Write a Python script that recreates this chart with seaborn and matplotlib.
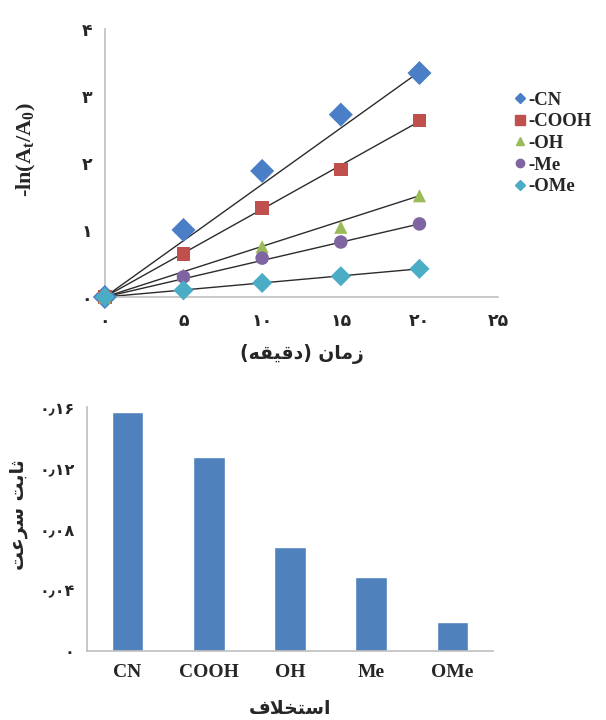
import numpy as np
import pandas as pd
import matplotlib
matplotlib.use("Agg")
import matplotlib.pyplot as plt
from matplotlib.lines import Line2D
from matplotlib.ticker import FixedLocator, MultipleLocator
import seaborn as sns

# ---------------- data ----------------
time_min = [0, 5, 10, 15, 20]
cn = [0, 1.00, 1.88, 2.72, 3.34]
cooh = [0, 0.64, 1.33, 1.90, 2.63]
oh = [0, 0.33, 0.75, 1.04, 1.51]
me = [0, 0.30, 0.58, 0.82, 1.09]
ome = [0, 0.10, 0.21, 0.31, 0.42]
fit_slopes = [0.168, 0.131, 0.0755, 0.0545, 0.021]
series_names = ["-CN", "-COOH", "-OH", "-Me", "-OMe"]

substituents = ["CN", "COOH", "OH", "Me", "OMe"]
rate_constants = [0.157, 0.127, 0.068, 0.0485, 0.019]

top_yticks = [0, 1, 2, 3, 4]
top_yticklabels = ["\u06F0", "\u06F1", "\u06F2", "\u06F3", "\u06F4"]
top_xticks = [0, 5, 10, 15, 20, 25]
top_xticklabels = ["\u06F0", "\u06F5", "\u06F1\u06F0", "\u06F1\u06F5", "\u06F2\u06F0", "\u06F2\u06F5"]
bar_yticks = [0, 0.04, 0.08, 0.12, 0.16]
bar_yticklabels = ["\u06F0", "\u06F0\u066B\u06F0\u06F4", "\u06F0\u066B\u06F0\u06F8",
                   "\u06F0\u066B\u06F1\u06F2", "\u06F0\u066B\u06F1\u06F6"]

# Persian labels written in visual (left-to-right, pre-shaped) order
zaman_vis = "\uFEE5\uFE8E\uFEE3\uFEAF"
daqiqe_vis = "\uFEEA\uFED8\uFEF4\uFED7\uFEA9"
top_xlabel = "(" + daqiqe_vis + ") " + zaman_vis
thabet_vis = "\uFE96\uFE91\uFE8E\uFE9B"
sorat_vis = "\uFE96\uFECB\uFEAE\uFEB3"
bar_ylabel = sorat_vis + " " + thabet_vis
bar_xlabel = "\uFED1\uFEFC\uFEA8\uFE98\uFEB3\uFE8D"

# ---------------- style ----------------
colors = ["#4A7EC6", "#C0504D", "#9BBB59", "#8064A2", "#4BACC6"]
markers = ["D", "s", "^", "o", "D"]
msizes = [150, 95, 90, 95, 105]
legend_ms = [5, 7, 5.5, 6, 5]
bar_color = "#4F81BD"
axis_gray = "#BFBFBF"

sns.set_style("white")
plt.rcParams["font.family"] = ["Liberation Serif", "DejaVu Sans"]
plt.rcParams["mathtext.fontset"] = "custom"
plt.rcParams["mathtext.rm"] = "Liberation Serif:bold"
plt.rcParams["mathtext.it"] = "Liberation Serif:bold"
plt.rcParams["mathtext.bf"] = "Liberation Serif:bold"
plt.rcParams["mathtext.default"] = "rm"

fa_font = dict(family=["DejaVu Sans"], fontweight="bold")
lat_font = dict(family=["Liberation Serif"], fontweight="bold")

fig = plt.figure(figsize=(6.06, 7.2), dpi=100)

# ---------------- top: kinetics ----------------
ax1 = fig.add_axes([0.173, 0.5875, 0.649, 0.3725])
series = [cn, cooh, oh, me, ome]
x_fit = np.array([time_min[0], time_min[-1]])
for slope in fit_slopes:
    ax1.plot(x_fit, slope * x_fit, color="#2b2b2b", lw=1.0, zorder=2)
for name, vals, c, m, s in zip(series_names, series, colors, markers, msizes):
    df = pd.DataFrame({"t": time_min, "y": vals})
    sns.scatterplot(data=df, x="t", y="y", ax=ax1, color=c, marker=m, s=s,
                    edgecolor="none", linewidth=0, zorder=3, clip_on=False)

ax1.set_xlim(0, 25)
ax1.set_ylim(0, 4)
ax1.set_xticks(top_xticks)
ax1.set_xticklabels(top_xticklabels, **fa_font, fontsize=12.5)
ax1.yaxis.set_major_locator(FixedLocator(top_yticks))
ax1.set_yticklabels(top_yticklabels, **fa_font, fontsize=12.5)
ax1.yaxis.set_minor_locator(MultipleLocator(0.5))
for sp in ["top", "right"]:
    ax1.spines[sp].set_visible(False)
for sp in ["left", "bottom"]:
    ax1.spines[sp].set_color(axis_gray)
    ax1.spines[sp].set_linewidth(1.2)
ax1.tick_params(axis="both", which="both", direction="out", color=axis_gray,
                length=4, width=1)
ax1.tick_params(axis="x", pad=7)
ax1.tick_params(axis="y", pad=5)
ax1.set_xlabel(top_xlabel, **fa_font, fontsize=13.5, labelpad=10)
ax1.set_ylabel(r"-ln(A$_{t}$/A$_{0}$)", **lat_font, fontsize=16)
ax1.yaxis.set_label_coords(-0.17, 0.55)

handles = [Line2D([], [], ls="none", marker=m, color=c, markersize=ms)
           for m, c, ms in zip(markers, colors, legend_ms)]
fig.legend(handles, series_names, loc="upper left",
           bbox_to_anchor=(507 / 606, 1 - 84 / 720), frameon=False,
           prop=dict(family="Liberation Serif", weight="bold", size=13.5),
           handlelength=0.6, handletextpad=0.12, labelspacing=0.24,
           borderaxespad=0)

# ---------------- bottom: rate constants ----------------
ax2 = fig.add_axes([0.1436, 0.0958, 0.670, 0.339])
bdf = pd.DataFrame({"sub": substituents, "k": rate_constants})
sns.barplot(data=bdf, x="sub", y="k", color=bar_color, saturation=1,
            width=0.39, ax=ax2)
ax2.set_xlim(-0.5, len(substituents) - 0.5)
ax2.set_ylim(0, 0.16)
ax2.yaxis.set_major_locator(FixedLocator(bar_yticks))
ax2.set_yticklabels(bar_yticklabels, **fa_font, fontsize=11.5)
ax2.yaxis.set_minor_locator(MultipleLocator(0.02))
ax2.set_xticks(range(len(substituents)))
ax2.set_xticklabels(substituents, **lat_font, fontsize=14)
ax2.xaxis.set_minor_locator(FixedLocator(np.arange(-0.5, len(substituents), 1.0)))
for sp in ["top", "right"]:
    ax2.spines[sp].set_visible(False)
for sp in ["left", "bottom"]:
    ax2.spines[sp].set_color(axis_gray)
    ax2.spines[sp].set_linewidth(1.2)
ax2.tick_params(axis="y", which="both", direction="out", color=axis_gray,
                length=4, width=1, pad=5)
ax2.tick_params(axis="x", which="major", length=0, pad=9)
ax2.tick_params(axis="x", which="minor", direction="out", color=axis_gray,
                length=4, width=1)
ax2.set_xlabel(bar_xlabel, **fa_font, fontsize=13.5, labelpad=13)
ax2.set_ylabel(bar_ylabel, **fa_font, fontsize=13.5)
ax2.yaxis.set_label_coords(-0.145, 0.56)

fig.savefig("out.png", dpi=100)
